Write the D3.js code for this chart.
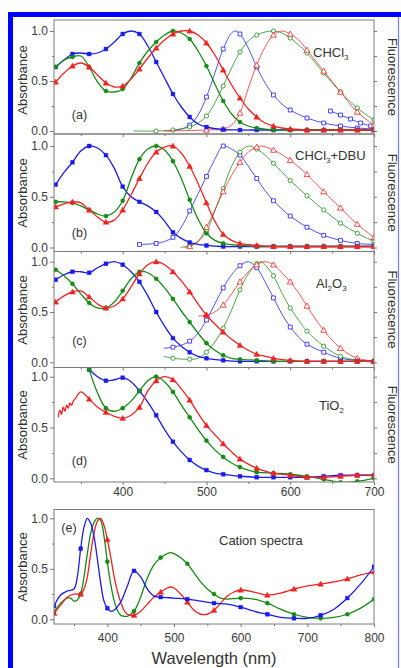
<!DOCTYPE html>
<html><head><meta charset="utf-8">
<script src="https://cdn.jsdelivr.net/npm/d3@7"></script>
<style>
html,body{margin:0;padding:0;background:#fff;}
svg{display:block;font-family:"Liberation Sans",Arial,sans-serif;}
</style></head><body>
<svg id="fig" width="401" height="668"></svg>
<script>
// ---- Spectra: [wavelength (nm), normalised intensity] ----
// (a) CHCl3
const aAbsBlue = [[320,.64],[330,.71],[340,.77],[350,.78],[360,.77],[370,.78],[380,.82],[390,.89],[400,.97],[410,1.0],[420,.97],[430,.85],[440,.69],[450,.53],[460,.37],[470,.24],[480,.14],[490,.07],[500,.04],[520,.015],[540,.01],[560,.01],[580,.01],[600,.01],[620,.01],[640,.01],[660,.01],[680,.01],[700,.01]];
const aAbsGreen = [[320,.64],[330,.71],[340,.74],[350,.75],[360,.64],[370,.49],[380,.40],[390,.39],[400,.42],[410,.53],[420,.68],[430,.80],[440,.89],[450,.96],[460,1.0],[470,.98],[480,.92],[490,.80],[500,.65],[510,.47],[520,.30],[530,.17],[540,.09],[550,.05],[560,.03],[580,.01],[600,.01],[620,.01],[640,.01],[660,.01],[680,.01],[700,.01]];
const aAbsRed = [[320,.49],[330,.58],[340,.65],[350,.68],[360,.64],[370,.56],[380,.48],[390,.44],[400,.45],[410,.52],[420,.62],[430,.73],[440,.83],[450,.91],[460,.97],[470,1.0],[480,1.0],[490,.96],[500,.88],[510,.76],[520,.61],[530,.46],[540,.33],[550,.22],[560,.14],[570,.08],[580,.05],[590,.03],[600,.02],[620,.01],[640,.01],[660,.01],[680,.01],[700,.01]];
const aFlBlue = [[455,0],[470,.02],[480,.06],[490,.16],[500,.34],[510,.58],[520,.82],[530,.98],[535,1.0],[540,.97],[550,.83],[560,.64],[570,.48],[580,.36],[590,.27],[600,.21],[620,.13],[640,.08],[660,.05],[680,.03],[700,.02]];
const aFlBlueTail = [[648,.2],[660,.16],[672,.12],[684,.08],[696,.05]];
const aFlGreen = [[413,0],[440,0],[460,.01],[480,.04],[490,.08],[500,.15],[510,.28],[520,.45],[530,.63],[540,.79],[550,.9],[560,.96],[570,.99],[580,1.0],[590,.98],[600,.93],[610,.86],[620,.78],[640,.58],[660,.39],[680,.23],[700,.11]];
const aFlRed = [[449,0],[500,.01],[520,.02],[530,.06],[540,.18],[550,.43],[560,.66],[570,.84],[580,.96],[590,1.0],[600,.97],[610,.91],[620,.81],[640,.6],[660,.39],[680,.19],[700,.06]];

// (b) CHCl3 + DBU
const bAbsBlue = [[320,.62],[330,.74],[340,.84],[350,.95],[360,1.0],[370,.98],[380,.91],[390,.78],[400,.6],[410,.5],[420,.45],[430,.41],[440,.35],[450,.26],[460,.15],[470,.09],[480,.05],[490,.03],[500,.02],[520,.01],[540,.01],[560,.01],[580,.01],[600,.01],[620,.01],[640,.01],[660,.01],[680,.01],[700,.01]];
const bAbsGreen = [[320,.45],[330,.45],[340,.44],[350,.41],[360,.37],[370,.33],[380,.31],[390,.35],[400,.46],[410,.68],[420,.87],[430,.97],[440,1.0],[450,.96],[460,.85],[470,.68],[480,.47],[490,.28],[500,.14],[510,.07],[520,.04],[540,.02],[560,.01],[580,.01],[600,.01],[620,.01],[640,.01],[660,.01],[680,.01],[700,.01]];
const bAbsRed = [[320,.40],[330,.43],[340,.45],[350,.44],[360,.37],[370,.3],[380,.25],[390,.27],[400,.37],[410,.52],[420,.68],[430,.83],[440,.94],[450,.99],[460,1.0],[470,.93],[480,.8],[490,.63],[500,.44],[510,.26],[520,.13],[530,.07],[540,.04],[560,.02],[580,.01],[600,.01],[620,.01],[640,.01],[660,.01],[680,.01],[700,.01]];
const bFlBlue = [[420,.03],[440,.04],[450,.06],[460,.1],[470,.2],[480,.36],[490,.53],[500,.7],[510,.87],[520,1.0],[530,.97],[540,.91],[550,.8],[560,.68],[570,.56],[580,.46],[590,.38],[600,.31],[620,.2],[640,.12],[660,.07],[680,.04],[700,.03]];
const bFlGreen = [[469,0],[480,.02],[490,.06],[500,.16],[510,.36],[520,.58],[530,.8],[540,.94],[550,1.0],[560,.97],[570,.91],[580,.83],[600,.66],[620,.51],[640,.37],[660,.24],[680,.14],[700,.06]];
const bFlRed = [[474,0],[480,.01],[490,.06],[500,.2],[510,.37],[520,.55],[530,.71],[540,.84],[550,.94],[560,.99],[565,1.0],[580,.96],[600,.86],[620,.72],[640,.55],[660,.39],[680,.23],[700,.1]];

// (c) Al2O3
const cAbsBlue = [[320,.82],[330,.87],[340,.9],[350,.9],[360,.89],[370,.94],[380,.98],[390,1.0],[400,.97],[410,.9],[420,.8],[430,.66],[440,.5],[450,.36],[460,.24],[470,.16],[480,.1],[490,.06],[500,.04],[520,.02],[540,.01],[560,.01],[580,.01],[600,.01],[620,.01],[640,.01],[660,.01],[680,.01],[700,.01]];
const cAbsGreen = [[320,.92],[330,.86],[340,.78],[350,.68],[360,.59],[370,.54],[380,.54],[390,.6],[400,.71],[410,.83],[420,.9],[430,.89],[440,.83],[450,.74],[460,.63],[470,.51],[480,.4],[490,.29],[500,.19],[510,.12],[520,.07],[530,.04],[540,.03],[560,.02],[580,.01],[600,.01],[620,.01],[640,.01],[660,.01],[680,.01],[700,.01]];
const cAbsRed = [[320,.6],[330,.66],[340,.7],[350,.71],[360,.65],[370,.58],[380,.54],[390,.56],[400,.63],[410,.75],[420,.88],[430,.97],[440,1.0],[450,.97],[460,.9],[470,.81],[480,.7],[490,.58],[500,.47],[510,.38],[520,.3],[530,.23],[540,.17],[550,.12],[560,.08],[570,.06],[580,.04],[600,.02],[620,.01],[640,.01],[660,.01],[680,.01],[700,.01]];
const cFlBlue = [[449,.14],[460,.15],[470,.17],[480,.21],[490,.29],[500,.42],[510,.58],[520,.74],[530,.87],[540,.96],[550,1.0],[560,.94],[570,.8],[580,.64],[590,.48],[600,.35],[610,.25],[620,.18],[640,.1],[660,.04],[680,.02],[700,.01]];
const cFlGreen = [[449,.06],[460,.04],[480,.03],[490,.04],[500,.1],[510,.2],[520,.34],[530,.52],[540,.72],[550,.88],[560,.98],[565,1.0],[570,.97],[580,.86],[590,.69],[600,.54],[610,.42],[620,.31],[640,.16],[660,.06],[680,.02],[700,0]];
const cFlRed = [[490,.46],[500,.47],[510,.5],[520,.57],[530,.68],[540,.8],[550,.9],[560,.97],[570,1.0],[580,.97],[590,.89],[600,.8],[610,.69],[620,.56],[630,.43],[640,.32],[650,.22],[660,.14],[670,.08],[680,.04],[700,.01]];

// (d) TiO2
const dAbsBlue = [[360,1.07],[370,1.0],[380,.96],[390,.97],[400,.99],[410,.95],[420,.86],[430,.75],[440,.62],[450,.48],[460,.36],[470,.26],[480,.18],[490,.12],[500,.08],[510,.05],[520,.04],[540,.02],[560,.01],[580,.01],[600,.01],[620,.01],[640,.02],[660,.03],[680,.03],[700,.03]];
const dAbsGreen = [[360,1.07],[370,.84],[380,.69],[390,.66],[400,.69],[410,.76],[420,.86],[430,.96],[440,1.0],[450,.95],[460,.85],[470,.72],[480,.6],[490,.48],[500,.37],[510,.28],[520,.21],[530,.15],[540,.11],[550,.08],[560,.06],[580,.05],[600,.04],[620,.02],[640,-.01],[660,-.04],[680,-.03],[700,0]];
const dAbsRed = [[323,.6],[325,.67],[327,.63],[329,.7],[331,.66],[333,.72],[335,.69],[337,.74],[339,.72],[341,.76],[344,.79],[347,.83],[350,.85],[353,.84],[360,.78],[370,.7],[380,.65],[390,.61],[400,.59],[410,.62],[420,.7],[430,.86],[440,.96],[450,1.0],[460,.97],[470,.88],[480,.77],[490,.64],[500,.52],[510,.43],[520,.34],[530,.26],[540,.19],[550,.14],[560,.1],[570,.07],[580,.05],[600,.03],[620,.01],[640,.01],[660,.02],[680,.03],[700,.03]];

// (e) cation spectra
const eBlue = [[320,.13],[330,.24],[340,.28],[350,.3],[355,.42],[360,.7],[365,.91],[370,1.0],[375,.95],[380,.82],[385,.6],[390,.36],[395,.18],[400,.11],[405,.08],[410,.09],[420,.17],[430,.33],[440,.48],[450,.42],[460,.3],[470,.23],[480,.22],[500,.21],[520,.2],[540,.18],[560,.16],[580,.15],[600,.12],[620,.08],[640,.05],[660,.02],[680,.01],[700,.01],[720,.04],[740,.1],[760,.21],[780,.35],[800,.52]];
const eGreen = [[320,.07],[330,.16],[340,.21],[345,.21],[350,.18],[355,.19],[360,.25],[365,.42],[370,.65],[375,.85],[380,.96],[385,1.0],[390,.98],[395,.82],[400,.57],[405,.35],[410,.19],[415,.09],[420,.04],[425,.03],[430,.03],[440,.08],[450,.22],[460,.41],[470,.54],[480,.61],[490,.65],[495,.66],[500,.65],[510,.61],[520,.55],[530,.46],[540,.37],[550,.3],[560,.25],[570,.21],[580,.2],[600,.21],[620,.2],[640,.16],[660,.1],[680,.05],[700,.02],[720,.01],[740,.02],[760,.05],[780,.11],[800,.2]];
const eRed = [[320,.06],[330,.14],[340,.22],[350,.25],[360,.25],[365,.3],[370,.42],[375,.65],[380,.85],[385,.97],[390,1.0],[395,.93],[400,.79],[405,.62],[410,.43],[415,.28],[420,.17],[425,.09],[430,.05],[440,.04],[450,.08],[460,.15],[470,.22],[480,.27],[490,.31],[495,.32],[500,.31],[510,.25],[520,.17],[530,.09],[540,.05],[550,.05],[560,.09],[570,.16],[580,.23],[590,.27],[600,.29],[620,.27],[640,.24],[660,.26],[680,.3],[700,.33],[720,.35],[740,.37],[760,.4],[780,.44],[800,.47]];

// axis tick values and labels
const yMajor = [0, 0.5, 1];
const yMinor = [0.25, 0.75];
const fluoTicks = [0, 0.25, 0.5, 0.75, 1];
const xMajorAD = [400, 500, 600, 700];
const xMinorAD = [350, 450, 550, 650];
const xMajorE = [400, 500, 600, 700, 800];
const xMinorE = [350, 450, 550, 650, 750];
const panelTags = ["(a)", "(b)", "(c)", "(d)", "(e)"];

// ---- drawing ----
const BLUE = "#1c1ce8", GREEN = "#168a16", RED = "#f02222";
const svg = d3.select("#fig");

// page border
svg.append("rect").attr("x", 8).attr("y", 12).attr("width", 393).attr("height", 5).attr("fill", "#0000ff");
svg.append("rect").attr("x", 8).attr("y", 12).attr("width", 5).attr("height", 656).attr("fill", "#0000ff");
svg.append("line").attr("x1", 398.5).attr("x2", 398.5).attr("y1", 17).attr("y2", 668).attr("stroke", "#7a7aff").attr("stroke-width", 1.2);

const L = 54, R = 374;
const xAD = d3.scaleLinear().domain([318, 700]).range([L, R]);
const xE = d3.scaleLinear().domain([320, 800]).range([L, R]);

const layouts = [
  {top: 20, bottom: 134, y1: 31, y0: 131, tagY: 119, absY: 80,
   series: [
     {d: aFlBlue, c: BLUE, fl: true, s: d3.symbolSquare},
     {d: aFlBlueTail, c: BLUE, fl: true, s: d3.symbolSquare, all: true},
     {d: aFlGreen, c: GREEN, fl: true, s: d3.symbolCircle},
     {d: aFlRed, c: RED, fl: true, s: d3.symbolTriangle},
     {d: aAbsBlue, c: BLUE, s: d3.symbolSquare},
     {d: aAbsGreen, c: GREEN, s: d3.symbolCircle},
     {d: aAbsRed, c: RED, s: d3.symbolTriangle}],
   name: {x: 313, y: 57, parts: [["CHCl", 0], ["3", 1]]}},
  {top: 134, bottom: 251.5, y1: 146, y0: 247.5, tagY: 236.5, absY: 193,
   series: [
     {d: bFlBlue, c: BLUE, fl: true, s: d3.symbolSquare},
     {d: bFlGreen, c: GREEN, fl: true, s: d3.symbolCircle},
     {d: bFlRed, c: RED, fl: true, s: d3.symbolTriangle},
     {d: bAbsBlue, c: BLUE, s: d3.symbolSquare},
     {d: bAbsGreen, c: GREEN, s: d3.symbolCircle},
     {d: bAbsRed, c: RED, s: d3.symbolTriangle}],
   name: {x: 295, y: 160, parts: [["CHCl", 0], ["3", 1], ["+DBU", 0]]}},
  {top: 251.5, bottom: 367.5, y1: 261.7, y0: 362.3, tagY: 345, absY: 310,
   series: [
     {d: cFlBlue, c: BLUE, fl: true, s: d3.symbolSquare},
     {d: cFlGreen, c: GREEN, fl: true, s: d3.symbolCircle},
     {d: cFlRed, c: RED, fl: true, s: d3.symbolTriangle},
     {d: cAbsBlue, c: BLUE, s: d3.symbolSquare},
     {d: cAbsGreen, c: GREEN, s: d3.symbolCircle},
     {d: cAbsRed, c: RED, s: d3.symbolTriangle}],
   name: {x: 316, y: 288, parts: [["Al", 0], ["2", 1], ["O", 0], ["3", 1]]}},
  {top: 367.5, bottom: 482, y1: 376.7, y0: 478.3, tagY: 464.5, absY: 425,
   series: [
     {d: dAbsBlue, c: BLUE, s: d3.symbolSquare},
     {d: dAbsGreen, c: GREEN, s: d3.symbolCircle},
     {d: dAbsRed, c: RED, s: d3.symbolTriangle}],
   name: {x: 319, y: 410, parts: [["TiO", 0], ["2", 1]]}}
];

function drawSeries(g, x, y, s, step) {
  const line = d3.line().x(d => x(d[0])).y(d => y(d[1])).curve(d3.curveCatmullRom.alpha(0.5));
  g.append("path").datum(s.d).attr("d", line).attr("fill", "none")
    .attr("stroke", s.c).attr("stroke-width", s.fl ? 0.9 : 1.3).attr("stroke-opacity", s.fl ? 0.85 : 1);
  const isTri = s.s === d3.symbolTriangle;
  const sym = d3.symbol().type(s.s).size(s.s === d3.symbolCircle ? 14 : (isTri ? 15 : 15));
  const pts = s.d.filter(d => s.all || d[0] % step === 0);
  g.selectAll(null).data(pts).join("path").attr("d", sym)
    .attr("transform", d => `translate(${x(d[0])},${y(d[1]) + (isTri ? 0.5 : 0)})`)
    .attr("fill", s.fl ? "#fff" : s.c).attr("stroke", s.c).attr("stroke-width", s.fl ? 0.8 : 0.4);
}

function styleAxis(g) {
  g.select(".domain").remove();
  g.selectAll("line").attr("stroke", "#777");
  g.selectAll("text").attr("fill", "#3a3a3a").style("font-size", "12px").style("font-family", "Liberation Sans, Arial, sans-serif");
}

function absLabel(cy) {
  svg.append("text").attr("transform", `translate(26.5,${cy}) rotate(-90)`).attr("text-anchor", "middle")
    .attr("fill", "#333").style("font-size", "13px").text("Absorbance");
}

function nameLabel(n) {
  const t = svg.append("text").attr("x", n.x).attr("y", n.y).attr("fill", "#333").style("font-size", "13px");
  n.parts.forEach(([txt, sub]) => {
    const ts = t.append("tspan").text(txt);
    if (sub) ts.style("font-size", "8px").attr("dy", 3);
    else ts.attr("dy", t.selectAll("tspan").size() > 1 ? -3 : 0);
  });
}

layouts.forEach((p, i) => {
  const y = d3.scaleLinear().domain([0, 1]).range([p.y0, p.y1]);
  const clipId = "clip" + i;
  svg.append("clipPath").attr("id", clipId).append("rect")
    .attr("x", L).attr("y", p.top).attr("width", R - L).attr("height", p.bottom - p.top);
  const g = svg.append("g").attr("clip-path", `url(#${clipId})`);
  p.series.forEach(s => drawSeries(g, xAD, y, s, 20));

  // left axis
  styleAxis(svg.append("g").attr("transform", `translate(${L},0)`)
    .call(d3.axisLeft(y).tickValues(yMajor).tickSize(4).tickPadding(2).tickFormat(d3.format(".1f"))));
  styleAxis(svg.append("g").attr("transform", `translate(${L},0)`)
    .call(d3.axisLeft(y).tickValues(yMinor).tickSize(2).tickFormat("")));
  // right (fluorescence) axis ticks
  styleAxis(svg.append("g").attr("transform", `translate(${R},0)`)
    .call(d3.axisRight(y).tickValues(fluoTicks).tickSize(3).tickFormat("")));
  // bottom ticks
  const last = i === layouts.length - 1;
  styleAxis(svg.append("g").attr("transform", `translate(0,${p.bottom})`)
    .call(d3.axisBottom(xAD).tickValues(xMajorAD).tickSize(3).tickPadding(2)
      .tickFormat(last ? d3.format("d") : "")));
  styleAxis(svg.append("g").attr("transform", `translate(0,${p.bottom})`)
    .call(d3.axisBottom(xAD).tickValues(xMinorAD).tickSize(2).tickFormat("")));

  svg.append("rect").attr("x", L).attr("y", p.top).attr("width", R - L).attr("height", p.bottom - p.top)
    .attr("fill", "none").attr("stroke", "#7a7a7a").attr("stroke-width", 1);

  absLabel(p.absY);
  svg.append("text").attr("transform", `translate(388,${(p.top + p.bottom) / 2}) rotate(90)`)
    .attr("text-anchor", "middle").attr("fill", "#333").style("font-size", "13px").text("Fluorescence");
  svg.append("text").attr("x", 79.5).attr("y", p.tagY).attr("text-anchor", "middle")
    .attr("fill", "#333").style("font-size", "12.5px").text(panelTags[i]);
  nameLabel(p.name);
});

// panel (e)
{
  const top = 509.5, bottom = 624;
  const y = d3.scaleLinear().domain([0, 1]).range([619.3, 518.3]);
  svg.append("clipPath").attr("id", "clipE").append("rect")
    .attr("x", L).attr("y", top).attr("width", R - L).attr("height", bottom - top);
  const g = svg.append("g").attr("clip-path", "url(#clipE)");
  drawSeries(g, xE, y, {d: eGreen, c: GREEN, s: d3.symbolCircle}, 40);
  drawSeries(g, xE, y, {d: eRed, c: RED, s: d3.symbolTriangle}, 40);
  drawSeries(g, xE, y, {d: eBlue, c: BLUE, s: d3.symbolSquare}, 40);

  styleAxis(svg.append("g").attr("transform", `translate(${L},0)`)
    .call(d3.axisLeft(y).tickValues(yMajor).tickSize(4).tickPadding(2).tickFormat(d3.format(".1f"))));
  styleAxis(svg.append("g").attr("transform", `translate(${L},0)`)
    .call(d3.axisLeft(y).tickValues(yMinor).tickSize(2).tickFormat("")));
  styleAxis(svg.append("g").attr("transform", `translate(0,${bottom})`)
    .call(d3.axisBottom(xE).tickValues(xMajorE).tickSize(3).tickPadding(6).tickFormat(d3.format("d"))));
  styleAxis(svg.append("g").attr("transform", `translate(0,${bottom})`)
    .call(d3.axisBottom(xE).tickValues(xMinorE).tickSize(2).tickFormat("")));
  svg.append("rect").attr("x", L).attr("y", top).attr("width", R - L).attr("height", bottom - top)
    .attr("fill", "none").attr("stroke", "#7a7a7a").attr("stroke-width", 1);

  absLabel(567);
  svg.append("text").attr("x", 69).attr("y", 532).attr("text-anchor", "middle")
    .attr("fill", "#333").style("font-size", "12.5px").text(panelTags[4]);
  svg.append("text").attr("x", 219).attr("y", 545).attr("fill", "#333").style("font-size", "13px").text("Cation spectra");
  svg.append("text").attr("x", (L + R) / 2).attr("y", 664).attr("text-anchor", "middle")
    .attr("fill", "#333").style("font-size", "16.5px").text("Wavelength (nm)");
}
</script>
</body></html>
